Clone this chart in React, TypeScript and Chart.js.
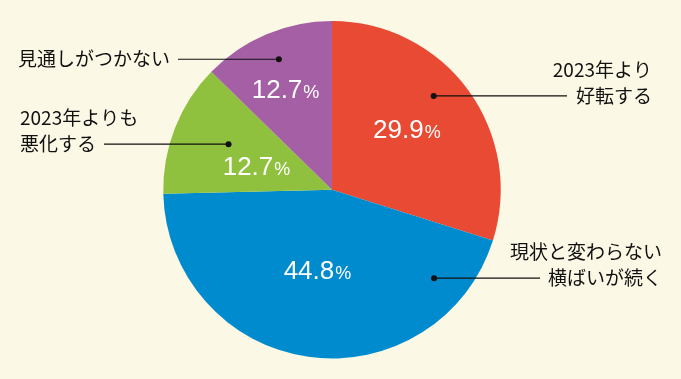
import React, { useEffect, useRef } from "react";
import { Chart, registerables } from "chart.js";

Chart.register(...registerables);

const categories = ["2023年より\n好転する", "現状と変わらない\n横ばいが続く", "2023年よりも\n悪化する", "見通しがつかない"];
const values = [29.9, 44.8, 12.7, 12.7];
const colors = ["#E84A33", "#008BCF", "#8FC13F", "#A55FA5"];
// label placement within each slice: [angle fraction, radius fraction]
const pctPos = [[0.47, 0.575], [0.514, 0.48], [0.42, 0.47], [0.46, 0.66]];
const dotPos = [[0.44, 0.82], [0.145, 0.8], [0.55, 0.67], [0.515, 0.835]];
// text anchor: [lineEndX, textX, align]
const textSpec: [number, number, CanvasTextAlign][] = [
  [567, 652, "right"],
  [540, 662, "right"],
  [104, 20, "left"],
  [178, 170, "right"],
];

const BG = "#FCF8E6";

const labelPlugin = {
  id: "labels",
  afterDraw(chart: any) {
    const ctx = chart.ctx;
    const meta = chart.getDatasetMeta(0);
    meta.data.forEach((arc: any, i: number) => {
      const { x, y, startAngle, endAngle, outerRadius } = arc.getProps(["x", "y", "startAngle", "endAngle", "outerRadius"], true);
      const span = endAngle - startAngle;
      // percentage
      const pa = startAngle + span * pctPos[i][0];
      const pr = outerRadius * pctPos[i][1];
      const px = x + Math.cos(pa) * pr;
      const py = y + Math.sin(pa) * pr;
      const num = values[i].toFixed(1);
      ctx.save();
      ctx.fillStyle = "#FFFFFF";
      ctx.textBaseline = "alphabetic";
      ctx.font = "26px 'Liberation Sans', Arial, sans-serif";
      const w1 = ctx.measureText(num).width;
      ctx.font = "18px 'Liberation Sans', Arial, sans-serif";
      const w2 = ctx.measureText("%").width;
      const sx = px - (w1 + w2 + 1) / 2;
      ctx.font = "26px 'Liberation Sans', Arial, sans-serif";
      ctx.textAlign = "left";
      ctx.fillText(num, sx, py + 9.5);
      ctx.font = "18px 'Liberation Sans', Arial, sans-serif";
      ctx.fillText("%", sx + w1 + 1, py + 9.5);
      ctx.restore();

      // dot + leader
      const da = startAngle + span * dotPos[i][0];
      const dr = outerRadius * dotPos[i][1];
      const dx = x + Math.cos(da) * dr;
      const dy = y + Math.sin(da) * dr;
      const [lineEnd, tx, align] = textSpec[i];
      ctx.save();
      ctx.strokeStyle = "#111111";
      ctx.fillStyle = "#111111";
      ctx.lineWidth = 1.2;
      ctx.beginPath();
      ctx.moveTo(dx, dy);
      ctx.lineTo(lineEnd, dy);
      ctx.stroke();
      ctx.beginPath();
      ctx.arc(dx, dy, 3, 0, Math.PI * 2);
      ctx.fill();
      ctx.font = "19px 'Noto Sans CJK JP', sans-serif";
      ctx.textAlign = align;
      ctx.textBaseline = "middle";
      const lines = categories[i].split("\n");
      const lh = 26.5;
      lines.forEach((ln, k) => {
        const ly = dy - (lines.length - 1 - k) * lh;
        ctx.fillText(ln, tx, ly);
      });
      ctx.restore();
    });
  },
};

const bgPlugin = {
  id: "bg",
  beforeDraw(chart: any) {
    const ctx = chart.ctx;
    ctx.save();
    ctx.fillStyle = BG;
    ctx.fillRect(0, 0, chart.width, chart.height);
    ctx.restore();
  },
};

export default function App() {
  const ref = useRef<HTMLCanvasElement>(null);
  useEffect(() => {
    document.body.style.margin = "0";
    document.body.style.background = BG;
    const chart = new Chart(ref.current!, {
      type: "pie",
      data: {
        labels: categories,
        datasets: [
          {
            data: values,
            backgroundColor: colors,
            borderWidth: 0,
          },
        ],
      },
      options: {
        responsive: false,
        animation: false,
        layout: { padding: { top: 21, bottom: 20.5, left: 163, right: 180 } },
        plugins: {
          legend: { display: false },
          tooltip: { enabled: false },
        },
      },
      plugins: [bgPlugin, labelPlugin],
    });
    return () => chart.destroy();
  }, []);
  return (
    <div style={{ width: 681, height: 379 }}>
      <canvas ref={ref} width={681} height={379} />
    </div>
  );
}
